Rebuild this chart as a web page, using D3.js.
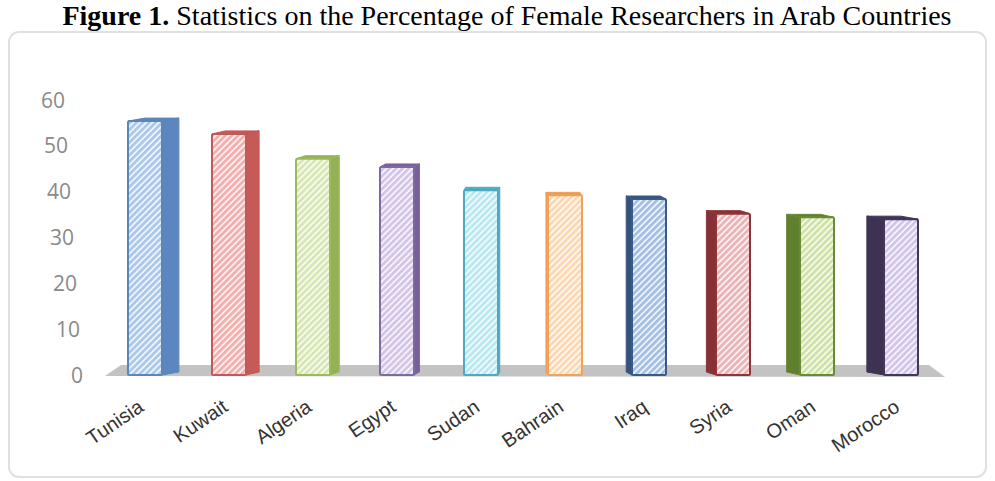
<!DOCTYPE html>
<html>
<head>
<meta charset="utf-8">
<script src="https://cdn.jsdelivr.net/npm/d3@7"></script>
<style>
  html, body { margin: 0; padding: 0; background: #fff; }
  svg { display: block; }
</style>
</head>
<body>
<svg id="chart" width="995" height="481"></svg>
<script>
const countries = ['Tunisia', 'Kuwait', 'Algeria', 'Egypt', 'Sudan', 'Bahrain', 'Iraq', 'Syria', 'Oman', 'Morocco'];
const values = [55.4, 52.6, 47.2, 45.4, 40.3, 39.2, 38.4, 35.2, 34.4, 34.0];
const yTicks = [0, 10, 20, 30, 40, 50, 60];

// face colours per bar: light front, edge, side
const fillColors = ['#a9c8ea', '#f3aeae', '#d6e7b4', '#d2c5e8', '#b9e8f2', '#fbd7b2', '#a3bfe3', '#eab3b8', '#cfe2a6', '#d2c5ec'];
const edgeColors = ['#5d86b8', '#c0595a', '#9bbb59', '#7f6aa0', '#4fa9c0', '#f0a15a', '#3a5a88', '#8f3438', '#6a8a35', '#433659'];
const sideColors = ['#5b86bf', '#c65a57', '#93b256', '#76609a', '#4bacc6', '#f79646', '#34527c', '#843236', '#61802f', '#3e3252'];

const svg = d3.select('#chart');

// frame
svg.append('rect')
  .attr('x', 9).attr('y', 32)
  .attr('width', 977).attr('height', 445)
  .attr('rx', 10)
  .attr('fill', '#fff')
  .attr('stroke', '#e0e0e0')
  .attr('stroke-width', 2);

// title
const title = svg.append('text')
  .attr('x', 507).attr('y', 25)
  .attr('text-anchor', 'middle')
  .style('font-family', '"Liberation Serif", "Times New Roman", serif')
  .style('font-size', '28px')
  .style('fill', '#000');
title.append('tspan').style('font-weight', 'bold').text('Figure 1.');
title.append('tspan').text(' Statistics on the Percentage of Female Researchers in Arab Countries');

// Scales
const x = d3.scaleBand()
  .domain(countries)
  .range([103, 943])
  .paddingInner(0.595)
  .paddingOuter(0.2975);

const y = d3.scaleLinear()
  .domain([0, 60])
  .range([375, 100]);

// patterns
const defs = svg.append('defs');
countries.forEach((c, i) => {
  const p = defs.append('pattern')
    .attr('id', 'hatch' + i)
    .attr('patternUnits', 'userSpaceOnUse')
    .attr('width', 4.5).attr('height', 4.5)
    .attr('patternTransform', 'rotate(-45)');
  p.append('rect').attr('width', 4.5).attr('height', 4.5).attr('fill', fillColors[i]);
  p.append('line')
    .attr('x1', 0).attr('y1', 1).attr('x2', 4.5).attr('y2', 1)
    .attr('stroke', '#fff').attr('stroke-width', 1.6).attr('opacity', 0.9);
});

// floor
const x0 = x.range()[0], x1 = x.range()[1];
svg.append('polygon')
  .attr('points', [[x0 + 2, y(0) + 1], [x0 + 18, y(0) - 10], [x1 - 14, y(0) - 10], [x1 + 2, y(0) + 2]].map(p => p.join(',')).join(' '))
  .attr('fill', '#c3c3c3');

// y axis labels (slightly slanted, as in the photo)
svg.append('g')
  .selectAll('text')
  .data(yTicks)
  .enter().append('text')
  .attr('x', d => 83 - d * 0.3)
  .attr('y', d => y(d))
  .attr('dy', '0.36em')
  .attr('text-anchor', 'end')
  .style('font-family', '"Open Sans", sans-serif')
  .style('font-size', '21px')
  .style('fill', '#8a8a8a')
  .text(d => d);

// Bars
const bw = x.bandwidth();
const topH = 3;
const bars = svg.append('g')
  .selectAll('g.bar')
  .data(countries)
  .enter().append('g')
  .attr('class', 'bar');

bars.each(function(c, i) {
  const g = d3.select(this);
  const left = x(c), right = left + bw;
  const cx = left + bw / 2;
  const d = (520 - cx) * 0.045;
  const yt = y(values[i]), yb = y(0);

  // side face
  const sx = d >= 0 ? right : left;
  g.append('polygon')
    .attr('points', [[sx, yt], [sx + d, yt - topH], [sx + d, yb - topH], [sx, yb]].map(p => p.join(',')).join(' '))
    .attr('fill', sideColors[i])
    .attr('stroke', edgeColors[i])
    .attr('stroke-width', 1);

  // top face
  g.append('polygon')
    .attr('points', [[left, yt], [right, yt], [right + d, yt - topH], [left + d, yt - topH]].map(p => p.join(',')).join(' '))
    .attr('fill', sideColors[i])
    .attr('stroke', edgeColors[i])
    .attr('stroke-width', 1);

  // front face
  g.append('rect')
    .attr('x', left).attr('y', yt)
    .attr('width', bw).attr('height', yb - yt)
    .attr('rx', 1.5)
    .attr('fill', `url(#hatch${i})`)
    .attr('stroke', edgeColors[i])
    .attr('stroke-width', 2);
});

// category labels
svg.append('g')
  .selectAll('text')
  .data(countries)
  .enter().append('text')
  .attr('transform', d => `translate(${x(d) + bw / 2},${410}) rotate(-34)`)
  .attr('text-anchor', 'end')
  .style('font-family', '"Liberation Sans", Arial, sans-serif')
  .style('font-size', '20px')
  .style('fill', '#333')
  .text(d => d);
</script>
</body>
</html>
